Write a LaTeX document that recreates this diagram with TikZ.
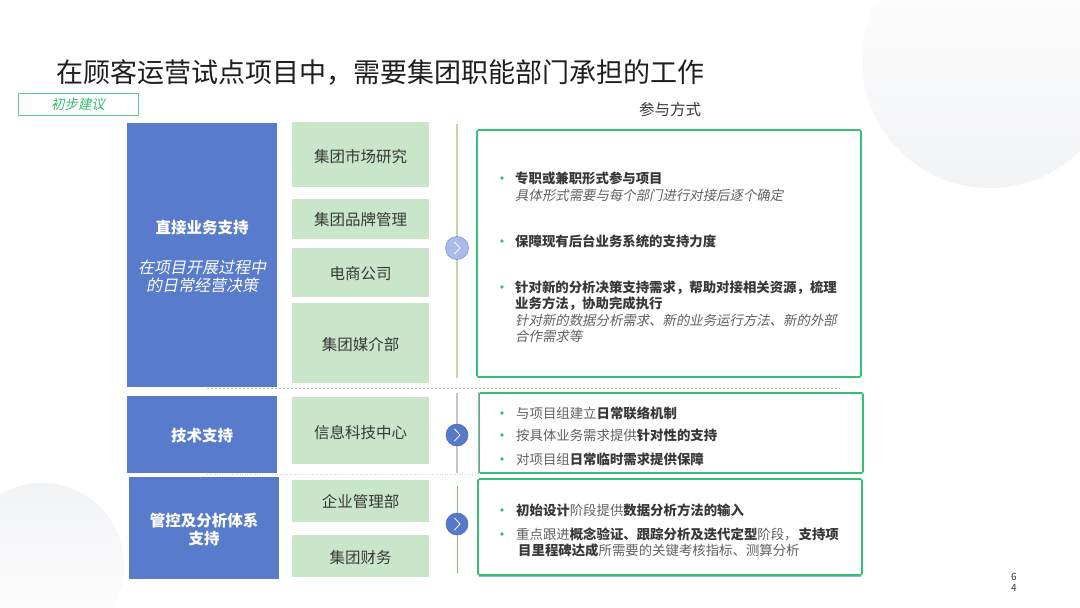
\documentclass[tikz,border=0pt]{standalone}
\usepackage{fontspec}
\setmainfont{Noto Sans CJK SC}[AutoFakeSlant=0.2]
\definecolor{bluebox}{HTML}{587BCB}
\definecolor{greenfill}{HTML}{C9E6CB}
\definecolor{frame}{HTML}{35BF74}
\definecolor{txt}{HTML}{383838}
\definecolor{soft}{HTML}{606060}
\definecolor{olive}{HTML}{C6D3A6}
\definecolor{dotgreen}{HTML}{B9D7A3}
\definecolor{chev}{HTML}{5679CC}
\definecolor{chevlight}{HTML}{A9BCE8}
\definecolor{bgcirc}{HTML}{F2F3F5}
\definecolor{titlec}{HTML}{1E1E1E}
\tikzset{
 blk/.style={fill=bluebox, draw=none, inner sep=0},
 dept/.style={fill=greenfill, draw=none, inner sep=0},
 outframe/.style={draw=frame, line width=1.6pt, rounded corners=1.5pt, inner sep=0},
 fsz/.style={inner sep=0, font=\fontsize{#1}{#1}\selectfont, text height={0.88*#1pt}, text depth={0.12*#1pt}},
 deptlbl/.style={fsz=15.5, text=txt},
 blklbl/.style={fsz=15.5, font=\fontsize{15.5}{18}\selectfont\bfseries, text=white},
 blkit/.style={fsz=16, font=\fontsize{16}{19}\selectfont\itshape, text=white},
 bodytxt/.style={fsz=13.4, anchor=west, text=soft},
 bodybold/.style={bodytxt, font=\fontsize{13.4}{16}\selectfont\bfseries, text=txt},
 bodyit/.style={bodytxt, font=\fontsize{13.4}{16}\selectfont\itshape, text=soft},
 bdot/.style={circle, fill=frame, inner sep=0, minimum size=3.6pt},
 chevbtn/.style={circle, fill=chev, draw=chev!85!black, line width=0.5pt, minimum size=22pt, inner sep=0},
 chevlite/.style={circle, fill=chevlight, draw=chev!70, line width=0.8pt, minimum size=23pt, inner sep=0},
 chevmark/.style={draw=white, line width=0.8pt},
}
\newcommand{\bd}[1]{{\bfseries\color{txt}#1}}
\begin{document}
\begin{tikzpicture}[x=1pt,y=-1pt]
\useasboundingbox (0,0) rectangle (1080,608);
% background circles
\shade[top color=white, bottom color=bgcirc] (990,60) circle (128);
\shade[top color=bgcirc, bottom color=white] (42,565) circle (82);

% title
\node[fsz=27, anchor=west, text=titlec] (title) at (56,72) {在顾客运营试点项目中，需要集团职能部门承担的工作};
\node[draw=frame!80, line width=1pt, minimum width=120pt, minimum height=22pt, inner sep=0] (tag) at (78,104) {};
\node[fsz=13.5, font=\fontsize{13.5}{15}\selectfont\itshape, text=frame] (tagt) at (tag.center) {初步建议};
\node[fsz=15.5, text=txt] (mode) at (670,110) {参与方式};

% left blue blocks
\node[blk, minimum width=150pt, minimum height=264pt] (b1) at (202,255) {};
\node[blk, minimum width=150pt, minimum height=77pt] (b2) at (202,434.5) {};
\node[blk, minimum width=150pt, minimum height=102pt] (b3) at (204,528) {};
\node[blklbl] (b1t) at (202,228) {直接业务支持};
\node[blkit] (b1s1) at (202,267) {在项目开展过程中};
\node[blkit] (b1s2) at (202,285) {的日常经营决策};
\node[blklbl] (b2t) at (202,436) {技术支持};
\node[blklbl] (b3t1) at (204,521) {管控及分析体系};
\node[blklbl] (b3t2) at (204,539) {支持};

% departments
\node[dept, minimum width=137pt, minimum height=65pt] (g1) at (360.5,154.5) {};
\node[dept, minimum width=137pt, minimum height=40pt] (g2) at (360.5,219) {};
\node[dept, minimum width=137pt, minimum height=49pt] (g3) at (360.5,272.5) {};
\node[dept, minimum width=137pt, minimum height=80pt] (g4) at (360.5,343) {};
\node[dept, minimum width=137pt, minimum height=67pt] (g5) at (360.5,430.5) {};
\node[dept, minimum width=137pt, minimum height=42pt] (g6) at (360.5,501) {};
\node[dept, minimum width=137pt, minimum height=42pt] (g7) at (360.5,556) {};
\node[deptlbl] (g1t) at (360.5,157) {集团市场研究};
\node[deptlbl] (g2t) at (360.5,220) {集团品牌管理};
\node[deptlbl] (g3t) at (360.5,274) {电商公司};
\node[deptlbl] (g4t) at (360.5,345) {集团媒介部};
\node[deptlbl] (g5t) at (360.5,433) {信息科技中心};
\node[deptlbl] (g6t) at (360.5,502) {企业管理部};
\node[deptlbl] (g7t) at (360.5,558) {集团财务};

% separators
\coordinate (s1a) at (207,388);
\coordinate (s1b) at (840,388);
\coordinate (s2a) at (207,474);
\coordinate (s2b) at (478,474);
\draw[dotgreen, line width=1pt, dash pattern=on 2pt off 2pt] (s1a) -- (s1b);
\draw[gray!35, line width=1pt, dash pattern=on 1pt off 1.5pt] (s2a) -- (s2b);

% vertical lines and chevrons
\coordinate (v1a) at (457,124);
\coordinate (v1b) at (457,378);
\coordinate (v2a) at (457,393);
\coordinate (v2b) at (457,473);
\coordinate (v3a) at (457,486);
\coordinate (v3b) at (457,573);
\draw[olive, line width=1.6pt] (v1a) -- (v1b);
\draw[gray!45, line width=1.2pt] (v2a) -- (v2b);
\draw[olive!70!green!60!gray, line width=0.7pt] (v3a) -- (v3b);
\node[chevlite] (c1) at (457,248) {};
\node[chevbtn] (c2) at (457,435) {};
\node[chevbtn] (c3) at (457,524) {};
\foreach \c in {c1,c2,c3}{
  \draw[chevmark] ([xshift=-2.5pt,yshift=6pt]\c.center) -- ([xshift=3pt]\c.center) -- ([xshift=-2.5pt,yshift=-6pt]\c.center);
}

% right frames
\node[outframe, minimum width=384pt, minimum height=247pt] (fa) at (669,253.5) {};
\node[outframe, minimum width=384pt, minimum height=80pt] (fb) at (671,433) {};
\node[outframe, minimum width=384pt, minimum height=96pt] (fc) at (670,527) {};
\draw[gray!60, line width=1.4pt] ([xshift=0.3pt]fb.north west) -- ([xshift=0.3pt]fb.south west);
\draw[chev!60, line width=1pt] ([xshift=2pt,yshift=-0.3pt]fc.south west) -- ([xshift=-2pt,yshift=-0.3pt]fc.south east);

% frame A text
\node[bdot] (da1) at (502,178) {};
\node[bodybold] (a1) at (515,178) {专职或兼职形式参与项目};
\node[bodyit] (a2) at (515,195) {具体形式需要与每个部门进行对接后逐个确定};
\node[bdot] (da2) at (502,241) {};
\node[bodybold] (a3) at (515,241) {保障现有后台业务系统的支持力度};
\node[bdot] (da3) at (502,287) {};
\node[bodybold] (a4) at (515,287) {针对新的分析决策支持需求，帮助对接相关资源，梳理};
\node[bodybold] (a5) at (515,303) {业务方法，协助完成执行};
\node[bodyit] (a6) at (515,320) {针对新的数据分析需求、新的业务运行方法、新的外部};
\node[bodyit] (a7) at (515,336) {合作需求等};

% frame B text
\node[bdot] (db1) at (502,413) {};
\node[bodytxt] (bt1) at (516,413) {与项目组建立\bd{日常联络机制}};
\node[bdot] (db2) at (502,435) {};
\node[bodytxt] (bt2) at (516,435) {按具体业务需求提供\bd{针对性的支持}};
\node[bdot] (db3) at (502,459) {};
\node[bodytxt] (bt3) at (516,459) {对项目组\bd{日常临时需求提供保障}};

% frame C text
\node[bdot] (dc1) at (502,510) {};
\node[bodytxt] (ct1) at (516,510) {\bd{初始设计}阶段提供\bd{数据分析方法的输入}};
\node[bdot] (dc2) at (502,534) {};
\node[bodytxt] (ct2) at (516,534) {重点跟进\bd{概念验证、跟踪分析及迭代定型}阶段，\hspace{1pt}\bd{支持项}};
\node[bodytxt] (ct3) at (518,550) {\bd{目里程碑达成}所需要的关键考核指标、测算分析};

% page number
\node[fsz=10, text=txt] (pn1) at (1014,577) {6};
\node[fsz=10, text=txt] (pn2) at (1014,588) {4};
\end{tikzpicture}
\end{document}
